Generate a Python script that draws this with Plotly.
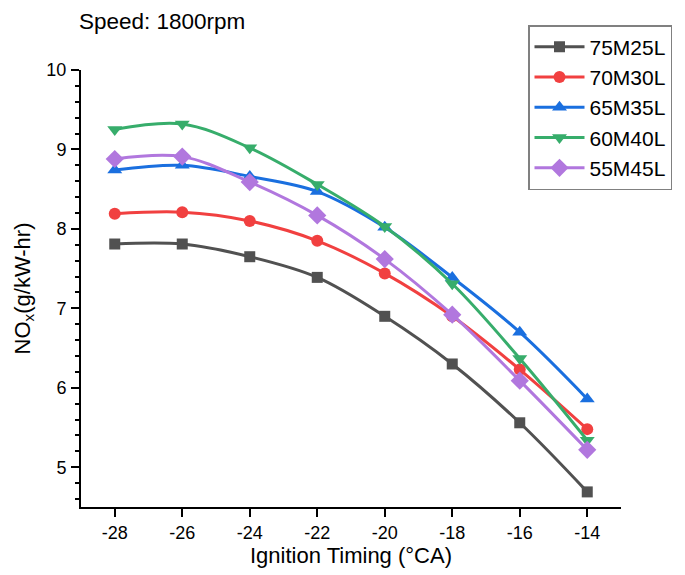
import plotly.graph_objects as go

timing = [-28, -26, -24, -22, -20, -18, -16, -14]

s75M25L = [7.81, 7.81, 7.65, 7.39, 6.90, 6.30, 5.56, 4.69]
s70M30L = [8.19, 8.21, 8.10, 7.85, 7.44, 6.90, 6.23, 5.48]
s65M35L = [8.74, 8.80, 8.66, 8.47, 8.02, 7.39, 6.70, 5.86]
s60M40L = [9.25, 9.32, 9.02, 8.56, 8.03, 7.31, 6.37, 5.34]
s55M45L = [8.88, 8.91, 8.59, 8.17, 7.62, 6.92, 6.09, 5.22]

series_names = ["75M25L", "70M30L", "65M35L", "60M40L", "55M45L"]
series_vals = [s75M25L, s70M30L, s65M35L, s60M40L, s55M45L]
colors = ["#515151", "#F14040", "#1A6FDF", "#37AD6B", "#B177DE"]
symbols = ["square", "circle", "triangle-up", "triangle-down", "diamond"]
msizes = [11, 12, 13, 13, 14]

fig = go.Figure()
for name, vals, c, sym, ms in zip(series_names, series_vals, colors, symbols, msizes):
    fig.add_trace(go.Scatter(
        x=timing, y=vals, name=name, mode="lines+markers",
        line=dict(color=c, width=3, shape="spline", smoothing=1.0),
        marker=dict(symbol=sym, size=ms, color=c),
    ))

font_family = "Liberation Sans, Arial, sans-serif"
fig.update_layout(
    width=677, height=567,
    margin=dict(l=73, r=64, t=61.5, b=68, autoexpand=False),
    plot_bgcolor="white", paper_bgcolor="white",
    font=dict(family=font_family, color="black", size=18),
    title=dict(text="Speed: 1800rpm", x=71/677, xanchor="left", xref="container",
               y=1 - 13/567, yanchor="middle", yref="container",
               font=dict(size=22.5, family=font_family, color="black")),
    legend=dict(x=520/677, y=1 - 17/567, xanchor="left", yanchor="top",
                xref="container", yref="container",
                bordercolor="#808080", borderwidth=1.5, bgcolor="white",
                font=dict(size=21, family=font_family, color="black"),
                itemwidth=50, tracegroupgap=0),
    xaxis=dict(range=[-29, -13], tickvals=timing, ticktext=[str(t) for t in timing],
               showgrid=False, zeroline=False, showline=True, linecolor="black", linewidth=2,
               ticks="outside", ticklen=8, tickwidth=2, tickcolor="black",
               tickfont=dict(size=18), automargin=False,
               title=dict(text="Ignition Timing (°CA)", font=dict(size=22), standoff=5)),
    yaxis=dict(range=[4.5, 10], dtick=1, tick0=5,
               showgrid=False, zeroline=False, showline=True, linecolor="black", linewidth=2,
               ticks="outside", ticklen=8, tickwidth=2, tickcolor="black",
               tickfont=dict(size=18), ticklabelstandoff=1, automargin=False,
               minor=dict(dtick=0.2, tick0=5, ticks="outside", ticklen=4, tickwidth=2, tickcolor="black", showgrid=False),
               title=dict(text="NO<sub>x</sub>(g/kW-hr)", font=dict(size=22), standoff=10)),
)

fig.write_html("out.html")
